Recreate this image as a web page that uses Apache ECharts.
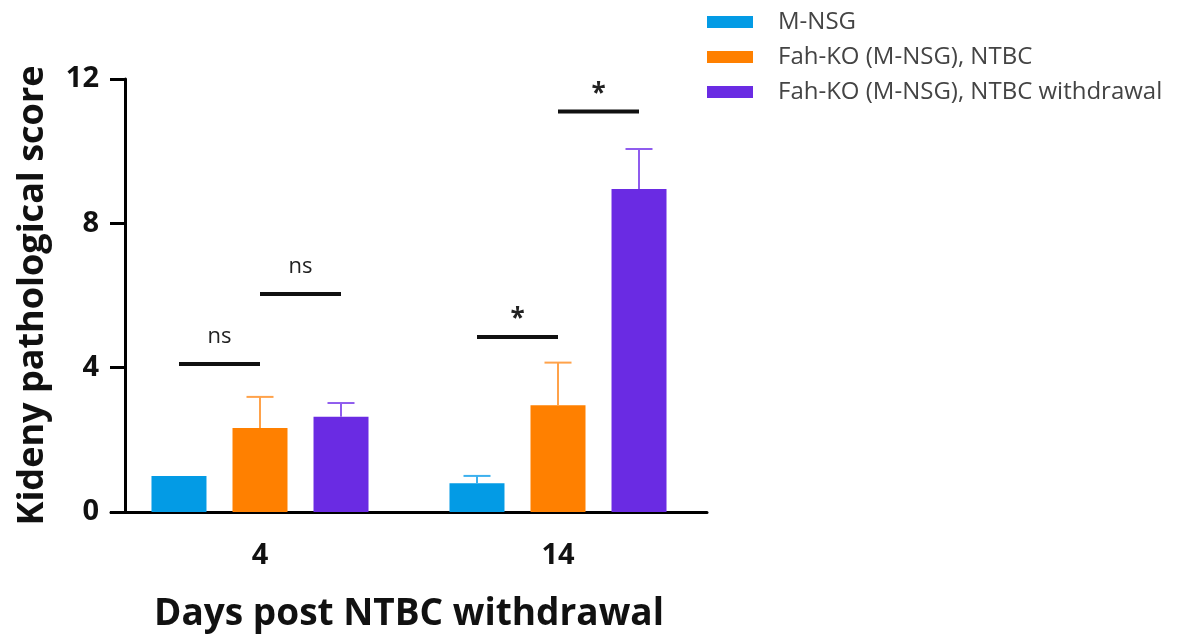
<!DOCTYPE html>
<html>
<head>
<meta charset="utf-8">
<script src="https://cdn.jsdelivr.net/npm/echarts@6/dist/echarts.min.js"></script>
<style>
  html, body { margin: 0; padding: 0; background: #fff; }
  #chart { width: 1196px; height: 639px; }
</style>
</head>
<body>
<div id="chart"></div>
<script>
const categories = ["4", "14"];
const seriesNames = ["M-NSG", "Fah-KO (M-NSG), NTBC", "Fah-KO (M-NSG), NTBC withdrawal"];
const mnsgMean = [1.0, 0.8];
const mnsgUpper = [1.0, 1.0];
const ntbcMean = [2.33, 2.96];
const ntbcUpper = [3.19, 4.14];
const withdrawalMean = [2.64, 8.95];
const withdrawalUpper = [3.02, 10.06];
const yTicks = [0, 4, 8, 12];

// [category index, from bar, to bar, y value]
const sigPairs = [
  [0, 0, 1, 4.1],
  [0, 1, 2, 6.04],
  [1, 0, 1, 4.85],
  [1, 1, 2, 11.1]
];
const sigLabels = ["ns", "ns", "*", "*"];

const barColors = ["#039be5", "#ff8000", "#6a2be3"];
const whiskerColors = ["#3cb0ee", "#ffa24a", "#8f5cee"];
const BAR_WIDTH = 55;
const BAR_STEP = 81;

const means = [mnsgMean, ntbcMean, withdrawalMean];
const uppers = [mnsgUpper, ntbcUpper, withdrawalUpper];

function barOffset(index) {
  return (index - 1) * BAR_STEP;
}

function errorSeries(index) {
  return {
    type: "custom",
    name: seriesNames[index] + " err",
    z: 3,
    silent: true,
    data: categories.map((c, i) => [i, means[index][i], uppers[index][i]]),
    encode: { x: 0, y: [1, 2] },
    renderItem(params, api) {
      const base = api.coord([api.value(0), api.value(1)]);
      const top = api.coord([api.value(0), api.value(2)]);
      const x = base[0] + barOffset(index);
      if (top[1] >= base[1] - 0.5) {
        return null;
      }
      const style = { stroke: whiskerColors[index], lineWidth: 2 };
      return {
        type: "group",
        children: [
          { type: "line", shape: { x1: x, y1: base[1], x2: x, y2: top[1] }, style },
          { type: "line", shape: { x1: x - 13.5, y1: top[1], x2: x + 13.5, y2: top[1] }, style }
        ]
      };
    }
  };
}

const chart = echarts.init(document.getElementById("chart"));

chart.setOption({
  backgroundColor: "#fff",
  animation: false,
  textStyle: { fontFamily: "Open Sans" },
  legend: {
    data: seriesNames,
    orient: "vertical",
    left: 702,
    top: 5,
    icon: "rect",
    itemWidth: 46,
    itemHeight: 12,
    itemGap: 11,
    textStyle: {
      fontFamily: "Open Sans",
      fontSize: 24,
      color: "#444",
      padding: [0, 0, 0, 20]
    }
  },
  grid: { left: 111, right: 489, top: 79, bottom: 127 },
  xAxis: {
    type: "category",
    data: categories,
    name: "Days post NTBC withdrawal",
    nameLocation: "middle",
    nameGap: 84,
    nameTextStyle: { fontSize: 37, fontWeight: "bold", color: "#111" },
    axisLine: { lineStyle: { color: "#000", width: 3 } },
    axisTick: { alignWithLabel: true, length: 13, lineStyle: { color: "#000", width: 3 } },
    axisLabel: { margin: 29, fontSize: 29, fontWeight: "bold", color: "#111" }
  },
  yAxis: {
    type: "value",
    min: 0,
    max: 12,
    interval: 4,
    offset: -14,
    name: "Kideny pathological score",
    nameLocation: "middle",
    nameGap: 74,
    nameTextStyle: { fontSize: 36, fontWeight: "bold", color: "#111" },
    splitLine: { show: false },
    axisLine: { show: true, lineStyle: { color: "#000", width: 3 } },
    axisTick: { show: true, length: 15, lineStyle: { color: "#000", width: 3 } },
    axisLabel: {
      margin: 26,
      fontSize: 29,
      fontWeight: "bold",
      color: "#111",
      formatter: (v) => (yTicks.includes(v) ? String(v) : "")
    }
  },
  series: [
    ...seriesNames.map((name, k) => ({
      type: "bar",
      name,
      data: means[k],
      barWidth: BAR_WIDTH,
      barGap: ((BAR_STEP - BAR_WIDTH) / BAR_WIDTH * 100).toFixed(1) + "%",
      itemStyle: { color: barColors[k] },
      z: 2
    })),
    errorSeries(0),
    errorSeries(1),
    errorSeries(2),
    {
      type: "custom",
      name: "significance",
      z: 4,
      silent: true,
      data: sigPairs,
      encode: { x: 0, y: 3 },
      renderItem(params, api) {
        const p = api.coord([api.value(0), api.value(3)]);
        const x1 = p[0] + barOffset(api.value(1));
        const x2 = p[0] + barOffset(api.value(2));
        const label = sigLabels[params.dataIndex];
        const star = label === "*";
        return {
          type: "group",
          children: [
            {
              type: "line",
              shape: { x1, y1: p[1], x2, y2: p[1] },
              style: { stroke: "#111", lineWidth: 4 }
            },
            {
              type: "text",
              x: (x1 + x2) / 2,
              y: p[1] - (star ? 17 : 27),
              style: {
                text: label,
                fill: "#222",
                align: "center",
                verticalAlign: "middle",
                fontFamily: "Open Sans",
                fontSize: star ? 26 : 22,
                fontWeight: star ? "bold" : "normal"
              }
            }
          ]
        };
      }
    }
  ]
});
</script>
</body>
</html>
